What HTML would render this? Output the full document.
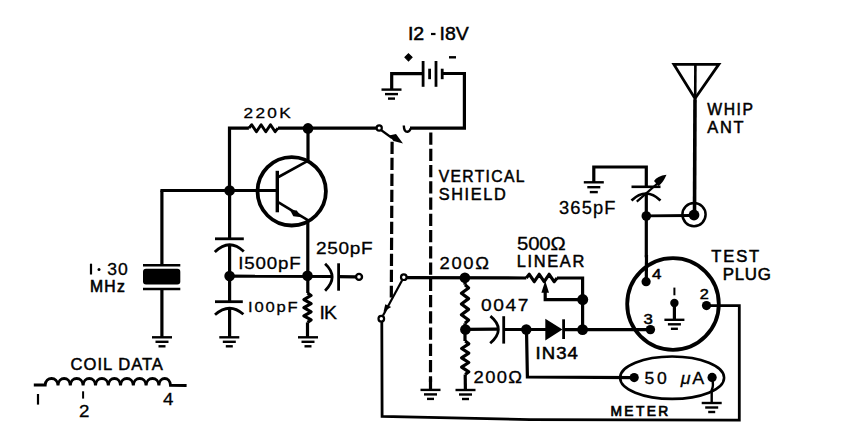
<!DOCTYPE html>
<html><head><meta charset="utf-8"><style>
html,body{margin:0;padding:0;background:#fff;}
svg{display:block;}
text{font-family:"Liberation Sans",sans-serif;fill:#000;stroke:#000;}
</style></head><body>
<svg width="843" height="430" viewBox="0 0 843 430">
<rect width="843" height="430" fill="#fff"/>
<g stroke="#000" fill="none" stroke-linecap="butt" stroke-linejoin="miter">
<text transform="translate(408,39.8) scale(1.12,1)" x="0" y="0" font-size="17.44" textLength="14.29" lengthAdjust="spacing" stroke-width="0.5" >I2</text>
<line x1="431" y1="34" x2="435.5" y2="34" stroke-width="2.2"/>
<text transform="translate(439.5,39.8) scale(1.12,1)" x="0" y="0" font-size="17.44" textLength="26.16" lengthAdjust="spacing" stroke-width="0.4" >I8V</text>
<path d="M408.5,53.8 L412,57.3 L408.5,60.8 L405,57.3 Z" fill="#000" stroke-width="1.2"/>
<line x1="449" y1="57.3" x2="456" y2="57.3" stroke-width="2.4"/>
<polyline points="391.7,89.6 391.7,73.6 423.1,73.6" stroke-width="3.2" />
<line x1="423.1" y1="61" x2="423.1" y2="86.8" stroke-width="2.8"/>
<line x1="429.6" y1="68.7" x2="429.6" y2="79.2" stroke-width="2.8"/>
<line x1="436" y1="61" x2="436" y2="86.8" stroke-width="2.8"/>
<line x1="442.2" y1="68.7" x2="442.2" y2="79.2" stroke-width="2.8"/>
<polyline points="442.2,73.5 464.4,73.5 464.4,128.2 410,128.2" stroke-width="3.2" />
<line x1="381.5" y1="89.6" x2="401.5" y2="89.6" stroke-width="2.4"/>
<line x1="385.0" y1="94.1" x2="398.0" y2="94.1" stroke-width="2.4"/>
<line x1="388.0" y1="98.6" x2="395.0" y2="98.6" stroke-width="2.4"/>
<polyline points="229.5,190.5 229.5,128.2 248.9,128.2" stroke-width="3.2" />
<polyline points="248.9,128.2 251.72,124.7 256.41,131.7 261.1,124.7 265.8,131.7 270.49,124.7 275.18,131.7 278,128.2" stroke-width="2.9" stroke-linejoin="round"/>
<text transform="translate(243.6,117.8) scale(1.12,1)" x="0" y="0" font-size="15.41" textLength="42.14" lengthAdjust="spacing" stroke-width="0.3" >220K</text>
<line x1="278" y1="128.2" x2="376" y2="128.2" stroke-width="3.2"/>
<circle cx="308" cy="128.4" r="5.3" fill="#000" stroke="none"/>
<line x1="308" y1="128.4" x2="308" y2="161" stroke-width="3.2"/>
<circle cx="379.2" cy="128" r="2.6" fill="#fff" stroke-width="2.2"/>
<line x1="381" y1="130" x2="392" y2="138" stroke-width="2.2"/>
<path d="M389,135.5 L396,134 L403,143.5 L393.5,141 Z" fill="#000" stroke="none"/>
<path d="M403.8,125.5 Q404,132 407.5,131.8 Q410,131.5 410.5,128.4" fill="none" stroke-width="2.4"/>
<line x1="392.1" y1="141.7" x2="391.3" y2="297.5" stroke-width="3.2" stroke-dasharray="12.2 3.8"/>
<circle cx="291.7" cy="191.3" r="34.2" fill="none" stroke-width="3.8"/>
<line x1="160.4" y1="190.5" x2="277.3" y2="190.5" stroke-width="3.2"/>
<line x1="277.3" y1="170.8" x2="277.3" y2="212.3" stroke-width="3.4"/>
<line x1="278.5" y1="177" x2="307.8" y2="160.9" stroke-width="2.6"/>
<line x1="278.5" y1="202.4" x2="307.8" y2="220.2" stroke-width="2.6"/>
<path d="M290,210 L296.8,210.4 L301.5,217.2 L293.3,216.2 Z" fill="#000" stroke="none"/>
<circle cx="229.6" cy="190.5" r="5.3" fill="#000" stroke="none"/>
<polyline points="161.9,190.5 161.9,265.2" stroke-width="3.2" />
<line x1="143" y1="265.2" x2="180.3" y2="265.2" stroke-width="2.4"/>
<rect x="143" y="268.8" width="37.3" height="15.6" rx="3" fill="#000" stroke="none"/>
<line x1="143" y1="289" x2="180.3" y2="289" stroke-width="2.4"/>
<line x1="161.9" y1="289" x2="161.9" y2="337.3" stroke-width="3.2"/>
<line x1="152.0" y1="337.3" x2="172.0" y2="337.3" stroke-width="2.4"/>
<line x1="155.5" y1="341.8" x2="168.5" y2="341.8" stroke-width="2.4"/>
<line x1="158.5" y1="346.3" x2="165.5" y2="346.3" stroke-width="2.4"/>
<line x1="91" y1="263.7" x2="91" y2="274.5" stroke-width="2.2"/>
<circle cx="99" cy="269.5" r="1.5" fill="#000" stroke="none"/>
<text transform="translate(107.3,274.5) scale(1.12,1)" x="0" y="0" font-size="15.7" textLength="18.21" lengthAdjust="spacing" stroke-width="0.3" >30</text>
<text transform="translate(89.9,292) scale(1.0,1)" x="0" y="0" font-size="15.7" textLength="34.9" lengthAdjust="spacing" stroke-width="0.6" >MHz</text>
<line x1="229.6" y1="190.5" x2="229.6" y2="238.8" stroke-width="3.2"/>
<line x1="215" y1="238.8" x2="243.8" y2="238.8" stroke-width="2.8"/>
<path d="M214.8,252 Q229.3,237.6 243.8,251.5" fill="none" stroke-width="2.8"/>
<line x1="229.6" y1="245" x2="229.6" y2="301.6" stroke-width="3.2"/>
<circle cx="229.6" cy="276" r="5.3" fill="#000" stroke="none"/>
<line x1="215" y1="301.7" x2="242.8" y2="301.7" stroke-width="2.8"/>
<path d="M215,314.8 Q229.2,302 243.4,314.3" fill="none" stroke-width="2.8"/>
<line x1="229.6" y1="308.5" x2="229.6" y2="337.3" stroke-width="3.2"/>
<line x1="219.3" y1="337.3" x2="239.3" y2="337.3" stroke-width="2.4"/>
<line x1="222.8" y1="341.8" x2="235.8" y2="341.8" stroke-width="2.4"/>
<line x1="225.8" y1="346.3" x2="232.8" y2="346.3" stroke-width="2.4"/>
<text transform="translate(238.3,268.8) scale(1.12,1)" x="0" y="0" font-size="16.72" textLength="55.8" lengthAdjust="spacing" stroke-width="0.3" >I500pF</text>
<text transform="translate(248,312) scale(1.12,1)" x="0" y="0" font-size="14.83" textLength="44.29" lengthAdjust="spacing" stroke-width="0.3" >I00pF</text>
<line x1="229.6" y1="276.2" x2="332" y2="276.4" stroke-width="3.2"/>
<line x1="307.8" y1="220.2" x2="307.8" y2="293" stroke-width="3.2"/>
<circle cx="307.5" cy="275.8" r="5.3" fill="#000" stroke="none"/>
<polyline points="307.5,293 311.1,295.45 303.9,299.53 311.1,303.62 303.9,307.7 311.1,311.78 303.9,315.87 311.1,319.95 307.5,322.4" stroke-width="3.2" stroke-linejoin="round"/>
<line x1="307.5" y1="322.4" x2="307.5" y2="337.3" stroke-width="3.2"/>
<line x1="298.0" y1="337.3" x2="318.0" y2="337.3" stroke-width="2.4"/>
<line x1="301.5" y1="341.8" x2="314.5" y2="341.8" stroke-width="2.4"/>
<line x1="304.5" y1="346.3" x2="311.5" y2="346.3" stroke-width="2.4"/>
<text transform="translate(319.5,319) scale(1.12,1)" x="0" y="0" font-size="17.44" textLength="15.62" lengthAdjust="spacing" stroke-width="0.3" >IK</text>
<path d="M325.1,263.7 Q339.2,277 325.1,290.7" fill="none" stroke-width="2.8"/>
<line x1="338.6" y1="263.3" x2="338.6" y2="290.7" stroke-width="2.8"/>
<line x1="338.6" y1="276.6" x2="355.5" y2="276.8" stroke-width="3.2"/>
<circle cx="359" cy="276.9" r="3" fill="#fff" stroke-width="2.4"/>
<text transform="translate(315.9,253.5) scale(1.12,1)" x="0" y="0" font-size="17.01" textLength="50.63" lengthAdjust="spacing" stroke-width="0.3" >250pF</text>
<circle cx="403.8" cy="277.2" r="2.8" fill="#fff" stroke-width="2.2"/>
<circle cx="381.3" cy="318.7" r="2.8" fill="#fff" stroke-width="2.2"/>
<line x1="383" y1="315.5" x2="402" y2="280.5" stroke-width="2.2"/>
<path d="M383.5,311.8 L385.3,304.2 L391.2,307 Z" fill="#000" stroke="none"/>
<polyline points="381.8,321.5 382.1,416.3 530,419.6 739.3,420.1 739.3,305.6 706.3,305.6" stroke-width="2.8" />
<line x1="406.6" y1="277.6" x2="526.3" y2="278" stroke-width="3.2"/>
<line x1="430.8" y1="132.5" x2="430.5" y2="382" stroke-width="3.2" stroke-dasharray="12.3 3.95"/>
<line x1="430.5" y1="378.5" x2="430.5" y2="389.9" stroke-width="3.2"/>
<line x1="420.5" y1="389.9" x2="440.5" y2="389.9" stroke-width="2.4"/>
<line x1="424.0" y1="394.4" x2="437.0" y2="394.4" stroke-width="2.4"/>
<line x1="427.0" y1="398.9" x2="434.0" y2="398.9" stroke-width="2.4"/>
<text transform="translate(438.7,181.8) scale(1.0,1)" x="0" y="0" font-size="15.7" textLength="85.8" lengthAdjust="spacing" stroke-width="0.5" >VERTICAL</text>
<text transform="translate(438.7,199.8) scale(1.0,1)" x="0" y="0" font-size="16.28" textLength="67.1" lengthAdjust="spacing" stroke-width="0.5" >SHIELD</text>
<circle cx="464.9" cy="277.7" r="5.3" fill="#000" stroke="none"/>
<polyline points="465,284.7 468.6,287.92 461.4,293.28 468.6,298.64 461.4,304.0 468.6,309.36 461.4,314.72 468.6,320.08 465,323.3" stroke-width="3.2" stroke-linejoin="round"/>
<circle cx="465.4" cy="329.5" r="5.3" fill="#000" stroke="none"/>
<polyline points="465.2,341 468.8,343.8 461.6,348.47 468.8,353.13 461.6,357.8 468.8,362.47 461.6,367.13 468.8,371.8 465.2,374.6" stroke-width="3.2" stroke-linejoin="round"/>
<line x1="465" y1="277.7" x2="465" y2="284.7" stroke-width="3.2"/>
<line x1="465" y1="323.3" x2="465" y2="341" stroke-width="3.2"/>
<line x1="465.2" y1="374.6" x2="465.4" y2="390" stroke-width="3.2"/>
<line x1="455.5" y1="390" x2="475.5" y2="390" stroke-width="2.4"/>
<line x1="459.0" y1="394.5" x2="472.0" y2="394.5" stroke-width="2.4"/>
<line x1="462.0" y1="399.0" x2="469.0" y2="399.0" stroke-width="2.4"/>
<text transform="translate(439.6,269) scale(1.12,1)" x="0" y="0" font-size="16.42" textLength="44.11" lengthAdjust="spacing" stroke-width="0.3" >200Ω</text>
<text transform="translate(473.6,383.3) scale(1.12,1)" x="0" y="0" font-size="16.42" textLength="43.21" lengthAdjust="spacing" stroke-width="0.3" >200Ω</text>
<line x1="465.4" y1="329.3" x2="497.5" y2="329.1" stroke-width="3.2"/>
<path d="M490.4,316.2 Q506.4,329.2 490.2,343.2" fill="none" stroke-width="2.8"/>
<line x1="503.7" y1="316.2" x2="503.7" y2="343.6" stroke-width="2.8"/>
<line x1="503.5" y1="329.5" x2="546.4" y2="329.5" stroke-width="3.2"/>
<circle cx="526.3" cy="329.5" r="5.2" fill="#000" stroke="none"/>
<text transform="translate(481,310.8) scale(1.12,1)" x="0" y="0" font-size="17.15" textLength="42.32" lengthAdjust="spacing" stroke-width="0.3" >0047</text>
<path d="M545.3,318.7 L545.3,340.5 L562.5,329.5 Z" fill="#000" stroke="none"/>
<line x1="563.6" y1="319.3" x2="563.6" y2="339" stroke-width="2.8"/>
<line x1="563" y1="329.6" x2="650" y2="329.6" stroke-width="3.2"/>
<circle cx="582.6" cy="329.6" r="5.4" fill="#000" stroke="none"/>
<text transform="translate(535.6,358.9) scale(1.12,1)" x="0" y="0" font-size="16.57" textLength="37.68" lengthAdjust="spacing" stroke-width="0.5" >IN34</text>
<polyline points="526.5,329.5 527.4,377 634.2,377.6" stroke-width="3.2" />
<polyline points="526.3,278 529.28,274.3 534.25,281.7 539.22,274.3 544.18,281.7 549.15,274.3 554.12,281.7 557.1,278" stroke-width="3.2" stroke-linejoin="round"/>
<polyline points="557,278 582.6,278 582.6,329.6" stroke-width="3.2" />
<circle cx="582.7" cy="299.6" r="5.5" fill="#000" stroke="none"/>
<polyline points="545.2,289 545.2,299.6 582.6,299.6" stroke-width="3.2" />
<path d="M545.2,280.8 L549,292.7 L541.4,292.7 Z" fill="#000" stroke="none"/>
<text transform="translate(517,249.9) scale(1.12,1)" x="0" y="0" font-size="18.17" textLength="43.48" lengthAdjust="spacing" stroke-width="0.3" >500Ω</text>
<text transform="translate(516.7,267.3) scale(1.0,1)" x="0" y="0" font-size="16.42" textLength="67.6" lengthAdjust="spacing" stroke-width="0.5" >LINEAR</text>
<polyline points="593.8,182.3 593.8,167 646.3,167 646.3,186.8" stroke-width="3.2" />
<line x1="583.8" y1="182.3" x2="603.8" y2="182.3" stroke-width="2.4"/>
<line x1="587.3" y1="187.20000000000002" x2="600.3" y2="187.20000000000002" stroke-width="2.4"/>
<line x1="589.8" y1="192.10000000000002" x2="597.8" y2="192.10000000000002" stroke-width="2.4"/>
<line x1="631.5" y1="186.8" x2="660.5" y2="186.8" stroke-width="2.6"/>
<path d="M631.5,200.5 Q646,186.5 660.5,200.5" fill="none" stroke-width="2.6"/>
<line x1="636.8" y1="201.7" x2="662" y2="179.5" stroke-width="2.2"/>
<path d="M654,181 Q657,176 666.5,174.8 Q663,183 658.5,186 Z" fill="#000" stroke="none"/>
<line x1="646.3" y1="193" x2="646.3" y2="257.3" stroke-width="3.2"/>
<circle cx="646.3" cy="216" r="4.8" fill="#000" stroke="none"/>
<line x1="646.3" y1="215.8" x2="690" y2="215.5" stroke-width="2.8"/>
<circle cx="694" cy="214.6" r="11.6" fill="none" stroke-width="2.5"/>
<circle cx="694" cy="215" r="5.4" fill="#000" stroke="none"/>
<text transform="translate(559,213.8) scale(1.0,1)" x="0" y="0" font-size="18.31" textLength="56.5" lengthAdjust="spacing" stroke-width="0.3" >365pF</text>
<path d="M673.9,64.4 L718.8,64.4 L695,98.5 Z" fill="none" stroke-width="2.8"/>
<line x1="695.4" y1="64.4" x2="695.2" y2="99" stroke-width="2.6"/>
<line x1="695" y1="99.3" x2="694.5" y2="214.9" stroke-width="3.6"/>
<text transform="translate(707.3,114.8) scale(1.0,1)" x="0" y="0" font-size="15.7" textLength="45.7" lengthAdjust="spacing" stroke-width="0.5" >WHIP</text>
<text transform="translate(707.3,132.5) scale(1.0,1)" x="0" y="0" font-size="16.42" textLength="36.2" lengthAdjust="spacing" stroke-width="0.5" >ANT</text>
<circle cx="673" cy="304" r="45.8" fill="none" stroke-width="3.8"/>
<line x1="646.5" y1="255" x2="646.3" y2="281.7" stroke-width="3.2"/>
<circle cx="646.1" cy="281.7" r="4.6" fill="#000" stroke="none"/>
<circle cx="674.4" cy="303" r="4.2" fill="#000" stroke="none"/>
<line x1="674.4" y1="303" x2="674.4" y2="319.8" stroke-width="3.2"/>
<line x1="664.4" y1="319.8" x2="684.4" y2="319.8" stroke-width="2.4"/>
<line x1="667.9" y1="324.3" x2="680.9" y2="324.3" stroke-width="2.4"/>
<line x1="670.9" y1="328.8" x2="677.9" y2="328.8" stroke-width="2.4"/>
<circle cx="706.5" cy="305.6" r="4.6" fill="#000" stroke="none"/>
<circle cx="650.4" cy="329.6" r="4.7" fill="#000" stroke="none"/>
<text transform="translate(652,278.7) scale(1.12,1)" x="0" y="0" font-size="15.12" textLength="9.37" lengthAdjust="spacing" stroke-width="0.5" >4</text>
<line x1="674.4" y1="287.6" x2="674.4" y2="295.3" stroke-width="2.0"/>
<text transform="translate(699.7,299) scale(1.12,1)" x="0" y="0" font-size="14.53" textLength="7.14" lengthAdjust="spacing" stroke-width="0.5" >2</text>
<text transform="translate(643.5,323.5) scale(1.12,1)" x="0" y="0" font-size="14.97" textLength="8.48" lengthAdjust="spacing" stroke-width="0.5" >3</text>
<text transform="translate(711.2,262.1) scale(1.0,1)" x="0" y="0" font-size="16.57" textLength="48.0" lengthAdjust="spacing" stroke-width="0.55" >TEST</text>
<text transform="translate(722.7,280.1) scale(1.0,1)" x="0" y="0" font-size="16.86" textLength="48.2" lengthAdjust="spacing" stroke-width="0.55" >PLUG</text>
<ellipse cx="672.1" cy="377.7" rx="52" ry="21.2" fill="none" stroke-width="2.6"/>
<circle cx="634.2" cy="377.6" r="4.6" fill="#000" stroke="none"/>
<circle cx="712.1" cy="377.4" r="4.6" fill="#000" stroke="none"/>
<path d="M712,378 Q714,386 711.7,390 L711.7,403" fill="none" stroke-width="2.4"/>
<line x1="701.7" y1="403" x2="721.7" y2="403" stroke-width="2.4"/>
<line x1="705.2" y1="407.5" x2="718.2" y2="407.5" stroke-width="2.4"/>
<line x1="708.2" y1="412.0" x2="715.2" y2="412.0" stroke-width="2.4"/>
<text transform="translate(644.5,383.8) scale(1.12,1)" x="0" y="0" font-size="15.7" textLength="20.0" lengthAdjust="spacing" stroke-width="0.3" >50</text>
<text transform="translate(680.8,384) scale(1.12,1)" x="0" y="0" font-size="15.99" textLength="20.89" lengthAdjust="spacing" stroke-width="0.3" ><tspan font-style="italic">μ</tspan>A</text>
<text transform="translate(610.4,416) scale(1.0,1)" x="0" y="0" font-size="13.81" textLength="57.9" lengthAdjust="spacing" stroke-width="0.7" >METER</text>
<text transform="translate(70.6,370.4) scale(1.0,1)" x="0" y="0" font-size="16.57" textLength="92.3" lengthAdjust="spacing" stroke-width="0.5" >COIL DATA</text>
<path d="M33.8,385 L45.2,385 C45.7,376.2 57.5,376.2 58,385.3 C58.5,376.2 69.8,376.2 70.3,385.3 C70.8,376.2 82.6,376.2 83.1,385.3 C83.6,376.2 95.0,376.2 95.5,385.3 C96.0,376.2 107.8,376.2 108.3,385.3 C108.8,376.2 120.0,376.2 120.5,385.3 C121.0,376.2 132.8,376.2 133.3,385.3 C133.8,376.2 145.6,376.2 146.1,385.3 C146.6,376.2 158.4,376.2 158.9,385.3 C159.4,376.2 170.0,376.2 170.5,385.3 L186.6,385.5" fill="none" stroke-width="2.9"/>
<line x1="83.1" y1="391.3" x2="83.1" y2="398.6" stroke-width="2.0"/>
<line x1="38" y1="394" x2="38" y2="404.6" stroke-width="2.2"/>
<text transform="translate(79,416.5) scale(1.12,1)" x="0" y="0" font-size="16.72" textLength="8.48" lengthAdjust="spacing" stroke-width="0.3" >2</text>
<text transform="translate(163.1,405) scale(1.12,1)" x="0" y="0" font-size="16.72" textLength="9.91" lengthAdjust="spacing" stroke-width="0.3" >4</text>
</g>
</svg>
</body></html>
